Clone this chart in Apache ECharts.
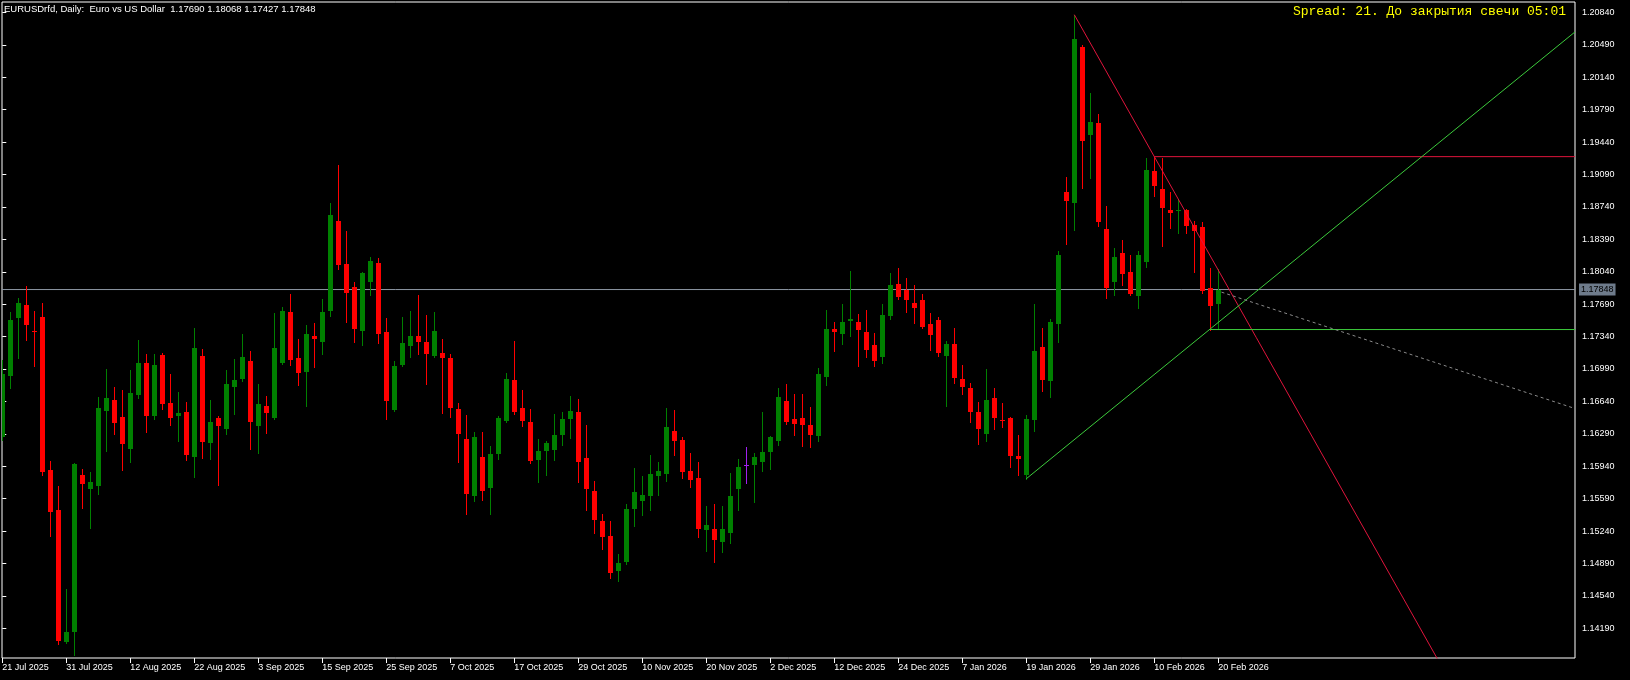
<!DOCTYPE html>
<html><head><meta charset="utf-8">
<script src="https://cdn.jsdelivr.net/npm/echarts@6/dist/echarts.min.js"></script>
<style>html,body{margin:0;padding:0;background:#000;}#c{width:1630px;height:680px;}</style>
</head><body><div id="c"></div>
<script>
// ---- data (EURUSD daily, bar index 0 = 21 Jul 2025) ----
const opens = [1.16255,1.16917,1.17544,1.17681,1.17400,1.17551,1.15899,1.15467,1.14045,1.14153,
1.15845,1.15697,1.15729,1.16539,1.16655,1.16471,1.16129,1.16712,1.17055,1.16485,
1.17141,1.16623,1.16485,1.16525,1.16043,1.17130,1.16194,1.16461,1.16345,1.16799,
1.16885,1.17076,1.16377,1.16590,1.16464,1.17058,1.17605,1.17109,1.16961,1.17346,
1.17285,1.17619,1.18588,1.18124,1.17875,1.17403,1.17933,1.18135,1.17389,1.16550,
1.17036,1.17241,1.17346,1.17281,1.17133,1.17163,1.17109,1.16558,1.16234,1.15621,
1.16039,1.15708,1.16075,1.16431,1.16871,1.16569,1.16417,1.16010,1.16107,1.16118,
1.16281,1.16453,1.16525,1.16029,1.15672,1.15348,1.15186,1.14811,1.14905,1.15478,
1.15564,1.15618,1.15834,1.15856,1.16320,1.16223,1.15888,1.15813,1.15251,1.15262,
1.15121,1.15219,1.15694,1.15950,1.15953,1.15985,1.16093,1.16212,1.16644,1.16450,
1.16461,1.16385,1.16266,1.16903,1.17422,1.17371,1.17511,1.17497,1.17389,1.17249,
1.17123,1.17565,1.17908,1.17843,1.17703,1.17735,1.17476,1.17519,1.17133,1.17260,
1.16882,1.16785,1.16525,1.16291,1.16677,1.16442,1.16464,1.16053,1.15848,1.16442,
1.17227,1.16863,1.17479,1.18901,1.18786,1.20467,1.19520,1.19647,1.18502,1.17929,
1.18243,1.18037,1.17781,1.18145,1.19128,1.18934,1.18707,1.18699,1.18707,1.18545,
1.18523,1.17865,1.17690];
const highs = [1.17087,1.17605,1.17757,1.17886,1.17616,1.17703,1.15996,1.15726,1.14614,1.15975,
1.15910,1.15877,1.16687,1.16990,1.16795,1.16763,1.16979,1.17303,1.17152,1.17152,
1.17163,1.16936,1.16741,1.16633,1.17433,1.17206,1.16655,1.16482,1.16979,1.17098,
1.17368,1.17184,1.16828,1.16698,1.17595,1.17659,1.17800,1.17314,1.17465,1.17487,
1.17746,1.18783,1.19193,1.18480,1.17929,1.18038,1.18199,1.18189,1.17541,1.17076,
1.17551,1.17616,1.17789,1.17573,1.17605,1.17314,1.17152,1.16623,1.16493,1.16309,
1.16309,1.16158,1.16482,1.16947,1.17292,1.16763,1.16558,1.16234,1.16212,1.16504,
1.16525,1.16698,1.16666,1.16385,1.15780,1.15424,1.15348,1.14992,1.15532,1.15921,
1.15834,1.16061,1.15985,1.16569,1.16547,1.16255,1.16083,1.15985,1.15510,1.15532,
1.15510,1.15867,1.16018,1.16147,1.16083,1.16525,1.16266,1.16785,1.16828,1.16720,
1.16720,1.16579,1.17001,1.17627,1.17497,1.17692,1.18048,1.17584,1.17627,1.17379,
1.17692,1.18027,1.18081,1.17973,1.17897,1.17800,1.17595,1.17551,1.17292,1.17433,
1.17033,1.16839,1.16637,1.16993,1.16788,1.16626,1.16475,1.16280,1.16493,1.17692,
1.17433,1.17530,1.18264,1.19063,1.20816,1.20489,1.19971,1.19744,1.18750,1.18297,
1.18383,1.18221,1.18264,1.19269,1.19283,1.19269,1.18901,1.18826,1.18718,1.18588,
1.18577,1.18081,1.18068];
const lows = [1.16223,1.16788,1.17112,1.17306,1.17025,1.15848,1.15189,1.14023,1.14034,1.13901,
1.15492,1.15276,1.15643,1.16107,1.16291,1.15902,1.15989,1.16680,1.16313,1.16453,
1.16561,1.16388,1.16215,1.16010,1.15827,1.16032,1.16021,1.15737,1.16291,1.16507,
1.16863,1.16129,1.16086,1.16302,1.16450,1.17047,1.17036,1.16820,1.16593,1.17015,
1.17155,1.17565,1.18073,1.17501,1.17285,1.17252,1.17792,1.17274,1.16453,1.16536,
1.17022,1.17123,1.17155,1.16831,1.17123,1.16518,1.16475,1.15989,1.15427,1.15567,
1.15578,1.15427,1.16021,1.16421,1.16507,1.16377,1.15978,1.15773,1.15848,1.16010,
1.16172,1.16248,1.15773,1.15470,1.15222,1.15049,1.14736,1.14700,1.14884,1.15294,
1.15413,1.15467,1.15629,1.15780,1.16061,1.15813,1.15715,1.15175,1.15024,1.14905,
1.15013,1.15111,1.15467,1.15759,1.15553,1.15888,1.15910,1.16169,1.16396,1.16277,
1.16158,1.16147,1.16212,1.16817,1.17187,1.17263,1.17349,1.17025,1.17123,1.17025,
1.17058,1.17533,1.17749,1.17609,1.17490,1.17433,1.17198,1.17133,1.16593,1.16842,
1.16723,1.16421,1.16183,1.16215,1.16345,1.16360,1.15935,1.15848,1.15805,1.16323,
1.16755,1.16691,1.17285,1.18343,1.18494,1.18945,1.19053,1.18534,1.17760,1.17792,
1.17897,1.17790,1.17652,1.18095,1.18861,1.18321,1.18513,1.18459,1.18455,1.18041,
1.17814,1.17416,1.17427];
const closes = [1.16936,1.17519,1.17703,1.17468,1.17386,1.15881,1.15449,1.14055,1.14149,1.15964,
1.15751,1.15769,1.16569,1.16677,1.16410,1.16183,1.16731,1.17055,1.16485,1.17033,
1.16615,1.16464,1.16515,1.16064,1.17217,1.16205,1.16417,1.16377,1.16828,1.16871,
1.17119,1.16421,1.16612,1.16518,1.17217,1.17616,1.17090,1.16950,1.17368,1.17314,
1.17605,1.18653,1.18116,1.17814,1.17425,1.18027,1.18156,1.17371,1.16647,1.17022,
1.17271,1.17346,1.17285,1.17155,1.17400,1.17112,1.16572,1.16291,1.15643,1.16255,
1.15675,1.16072,1.16461,1.16882,1.16529,1.16431,1.15999,1.16104,1.16191,1.16277,
1.16450,1.16536,1.15989,1.15697,1.15362,1.15179,1.14790,1.14895,1.15478,1.15661,
1.15629,1.15856,1.15888,1.16363,1.16212,1.15877,1.15791,1.15262,1.15305,1.15143,
1.15262,1.15618,1.15931,1.15950,1.16039,1.16093,1.16255,1.16687,1.16417,1.16396,
1.16385,1.16277,1.16936,1.17422,1.17393,1.17497,1.17530,1.17414,1.17198,1.17079,
1.17573,1.17897,1.17771,1.17738,1.17652,1.17447,1.17360,1.17166,1.17260,1.16896,
1.16799,1.16529,1.16345,1.16655,1.16464,1.16428,1.16053,1.16021,1.16450,1.17184,
1.16874,1.17497,1.18221,1.18804,1.20554,1.19455,1.19657,1.18581,1.17868,1.18199,
1.18019,1.17803,1.18221,1.19139,1.18969,1.18732,1.18675,1.18707,1.18537,1.18483,
1.17832,1.17673,1.17848];

const xTickBars = [0,8,16,24,32,40,48,56,64,72,80,88,96,104,112,120,128,136,144,152];
const xTickLabels = ['21 Jul 2025','31 Jul 2025','12 Aug 2025','22 Aug 2025','3 Sep 2025','15 Sep 2025',
 '25 Sep 2025','7 Oct 2025','17 Oct 2025','29 Oct 2025','10 Nov 2025','20 Nov 2025','2 Dec 2025',
 '12 Dec 2025','24 Dec 2025','7 Jan 2026','19 Jan 2026','29 Jan 2026','10 Feb 2026','20 Feb 2026'];
const yTicks = [1.14190,1.14540,1.14890,1.15240,1.15590,1.15940,1.16290,1.16640,1.16990,1.17340,
 1.17690,1.18040,1.18390,1.18740,1.19090,1.19440,1.19790,1.20140,1.20490,1.20840];

const bidPrice = 1.17848;
const X_MIN = -0.0375, X_MAX = 196.5875;
const Y_MIN = 1.13869, Y_MAX = 1.20953;

const redTrend = [[134, 1.20816], [180, 1.13766]];
const redLevel = [[144, 1.19283], [X_MAX, 1.19283]];
const greenTrend = [[128, 1.15805], [X_MAX, 1.20630]];
const greenLevel = [[151, 1.17416], [X_MAX, 1.17416]];
const grayDash = [[152.4, 1.17820], [X_MAX, 1.16563]];

const candleData = opens.map((o, i) => [i, o, highs[i], lows[i], closes[i]]);

const UP = '#008000', DOWN = '#FF0000', DOJI = '#A020F0';
const labelFont = "'Liberation Sans', Arial, sans-serif";

const chart = echarts.init(document.getElementById('c'), null, {renderer: 'canvas'});

function lineSeries(data, color, dashed) {
  return {
    type: 'line', data: data, symbol: 'none', silent: true, clip: true, z: 5,
    lineStyle: {color: color, width: 1, type: dashed ? [3, 3] : 'solid'},
    animation: false
  };
}

chart.setOption({
  backgroundColor: '#000',
  animation: false,
  title: [
    {text: 'EURUSDrfd, Daily:  Euro vs US Dollar  1.17690 1.18068 1.17427 1.17848',
     left: 4, top: 4, padding: 0,
     textStyle: {color: '#fff', fontSize: 9.5, fontWeight: 'normal', fontFamily: labelFont}},
    {text: 'Spread: 21. До закрытия свечи 05:01',
     right: 64, top: 5, padding: 0,
     textStyle: {color: '#FFFF00', fontSize: 13, fontWeight: 'normal', fontFamily: "'Liberation Mono', monospace"}}
  ],
  grid: {left: 2, top: 2, right: 55, bottom: 22, show: true, borderColor: '#fff', borderWidth: 1,
         backgroundColor: '#000', containLabel: false, outerBoundsMode: 'none'},
  xAxis: {
    type: 'value', min: X_MIN, max: X_MAX, splitLine: {show: false},
    axisLine: {show: false},
    axisTick: {show: true, customValues: xTickBars, length: 5, lineStyle: {color: '#fff'}},
    axisLabel: {show: true, customValues: xTickBars, align: 'left', margin: 5, color: '#fff',
      fontSize: 9, fontFamily: labelFont,
      formatter: v => { const k = xTickBars.indexOf(Math.round(v)); return k >= 0 ? xTickLabels[k] : ''; }}
  },
  yAxis: [
    {
      type: 'value', position: 'right', min: Y_MIN, max: Y_MAX, scale: true,
      splitLine: {show: false}, axisLine: {show: false},
      axisTick: {show: true, customValues: yTicks, length: 4, lineStyle: {color: '#fff'}},
      axisLabel: {show: true, customValues: yTicks, margin: 7, color: '#fff', fontSize: 9,
        fontFamily: labelFont, formatter: v => v.toFixed(5)}
    },
    {
      type: 'value', position: 'right', min: Y_MIN, max: Y_MAX, scale: true,
      splitLine: {show: false}, axisLine: {show: false}, axisTick: {show: false},
      axisLabel: {show: true, customValues: [bidPrice], margin: 4, color: '#000', fontSize: 9,
        fontFamily: labelFont, backgroundColor: '#6e7b8b', padding: [2, 2, 1, 2],
        formatter: v => v.toFixed(5)}
    }
  ],
  series: [
    {
      type: 'line', data: [[X_MIN, bidPrice], [X_MAX, bidPrice]], symbol: 'none', silent: true, z: 1,
      lineStyle: {color: '#8c96a3', width: 1}
    },
    {
      type: 'custom', data: candleData, clip: true, z: 3,
      encode: {x: 0, y: [1, 2, 3, 4]},
      renderItem: function (params, api) {
        const i = api.value(0), o = api.value(1), h = api.value(2), l = api.value(3), c = api.value(4);
        const pO = api.coord([i, o]), pC = api.coord([i, c]), pH = api.coord([i, h]), pL = api.coord([i, l]);
        const color = c > o ? UP : (c < o ? DOWN : DOJI);
        const cx = Math.round(pO[0]) + 0.5;
        const top = Math.round(Math.min(pO[1], pC[1]));
        const bot = Math.round(Math.max(pO[1], pC[1]));
        return {
          type: 'group',
          children: [
            {type: 'line', shape: {x1: cx, y1: Math.round(pH[1]), x2: cx, y2: Math.round(pL[1]) + 1},
             style: {stroke: color, lineWidth: 1}},
            {type: 'rect', shape: {x: cx - 2.5, y: top, width: 5, height: Math.max(1, bot - top)},
             style: {fill: color}}
          ]
        };
      }
    },
    lineSeries(redTrend, '#E0143C'),
    lineSeries(redLevel, '#E0143C'),
    lineSeries(greenTrend, '#3CCB3C'),
    lineSeries(greenLevel, '#3CCB3C'),
    lineSeries(grayDash, '#8a8a8a', true)
  ]
});
</script>
</body></html>
